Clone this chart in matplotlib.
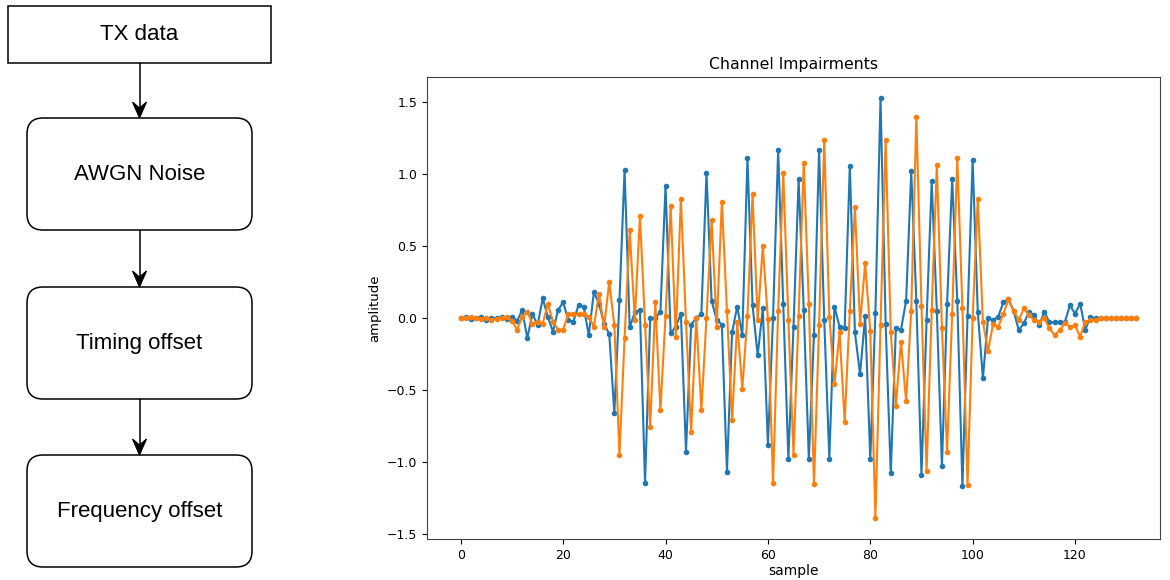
import numpy as np
import matplotlib
matplotlib.use("Agg")
import matplotlib.pyplot as plt
from matplotlib.patches import Rectangle, FancyBboxPatch, Polygon

# ---- flowchart stages ----
stage_labels = ["TX data", "AWGN Noise", "Timing offset", "Frequency offset"]

# ---- channel impairment samples (real / imaginary parts) ----
real_part = [
    0.0, 0.005, -0.005, 0.0, 0.005, -0.01, 0.0, 0.0, 0.005, -0.005,
    0.01, -0.02, 0.056, -0.14, 0.03, -0.05, 0.137, 0.01, -0.095, 0.056,
    0.11, -0.014, -0.025, 0.09, 0.08, -0.12, 0.18, 0.10, -0.04, -0.11,
    -0.66, 0.125, 1.03, -0.065, 0.04, 0.055, -1.15, 0.0, 0.0, 0.044,
    0.92, -0.107, -0.06, 0.03, -0.93, -0.045, 0.0, 0.03, 1.01, 0.12,
    -0.014, -0.045, -1.07, -0.10, 0.08, -0.12, 1.11, 0.09, -0.26, 0.067,
    -0.88, 0.0, 1.17, 0.10, -0.98, -0.06, 0.965, 0.056, -0.98, -0.115,
    1.17, -0.01, -0.98, 0.08, -0.06, -0.07, 1.06, -0.10, -0.39, 0.014,
    -0.98, 0.037, 1.53, -0.04, -1.08, -0.07, -0.08, 0.12, 1.02, 0.12,
    -1.09, -0.014, 0.95, 0.05, -1.03, 0.097, 0.965, 0.12, -1.17, 0.014,
    1.10, 0.044, -0.42, 0.0, -0.014, 0.01, 0.11, 0.13, 0.05, -0.084,
    -0.037, 0.044, 0.02, -0.05, 0.044, -0.03, -0.03, -0.03, -0.03, 0.09,
    0.03, 0.10, -0.08, 0.005, 0.0, 0.0, 0.0, 0.0, 0.0, 0.0,
    0.0, 0.0, 0.0,
]

imag_part = [
    0.0, 0.0, 0.005, 0.0, -0.005, 0.0, -0.01, -0.005, 0.0, 0.01,
    -0.02, -0.08, 0.01, 0.044, -0.04, -0.025, -0.04, 0.10, -0.025, -0.08,
    -0.08, 0.03, 0.03, 0.03, 0.03, 0.01, -0.06, 0.17, -0.06, 0.25,
    -0.05, -0.95, -0.14, 0.61, -0.01, 0.71, -0.045, -0.76, 0.11, -0.64,
    0.014, 0.78, -0.13, 0.83, -0.03, -0.79, 0.0, -0.64, 0.0, 0.68,
    -0.06, 0.81, 0.05, -0.71, -0.03, -0.49, 0.014, 0.86, -0.014, 0.50,
    -0.007, -1.15, 0.05, 1.01, -0.01, -0.95, 0.014, 1.08, 0.095, -1.155,
    -0.05, 1.24, 0.01, -0.46, -0.10, -0.72, 0.05, 0.77, -0.04, 0.38,
    -0.09, -1.39, -0.05, 1.24, -0.095, -0.61, -0.165, -0.58, 0.05, 1.40,
    0.084, -1.06, 0.056, 1.065, -0.07, -0.93, 0.03, 1.11, 0.067, -1.16,
    0.0, 0.83, -0.026, -0.23, -0.04, -0.06, 0.03, 0.13, 0.05, -0.014,
    0.067, 0.02, -0.014, -0.026, 0.0, -0.07, -0.12, -0.084, -0.037, -0.06,
    -0.05, -0.13, -0.026, -0.014, -0.01, 0.0, 0.0, 0.0, 0.0, 0.0,
    0.0, 0.0, 0.0,
]

sample_idx = np.arange(len(real_part))

W, H = 1170, 580
fig = plt.figure(figsize=(W / 100, H / 100), dpi=100)
fig.patch.set_facecolor("white")

# ---- block diagram on the left (pixel coordinates) ----
fc = fig.add_axes([0, 0, 300 / W, 1])
fc.set_xlim(0, 300)
fc.set_ylim(H, 0)
fc.axis("off")

box_lw = 1.1
cx = 139.5
fc.add_patch(Rectangle((8, 6), 263, 57, facecolor="white",
                       edgecolor="black", lw=box_lw))
fc.text(cx, 35, stage_labels[0], ha="center", va="center",
        fontsize=16, family="Liberation Sans")

box_tops = [118, 287, 455]
box_h = 112
for top, label in zip(box_tops, stage_labels[1:]):
    fc.add_patch(FancyBboxPatch((27, top), 225, box_h,
                                boxstyle="round,pad=0,rounding_size=16",
                                facecolor="white", edgecolor="black",
                                lw=box_lw))
    fc.text(cx, top + box_h / 2, label, ha="center", va="center",
            fontsize=16, family="Liberation Sans")

# connectors with notched arrowheads
arrow_spans = [(63, 118), (230, 287), (399, 455)]
for y0, y1 in arrow_spans:
    fc.plot([cx, cx], [y0, y1 - 9], color="black", lw=1.1,
            solid_capstyle="butt")
    fc.add_patch(Polygon([(cx, y1), (cx - 7, y1 - 16), (cx, y1 - 10),
                          (cx + 7, y1 - 16)], closed=True,
                         facecolor="black", edgecolor="black", lw=0.8))

# ---- signal plot on the right ----
ax = fig.add_axes([427 / W, 41 / H, 733 / W, 462 / H])
ax.plot(sample_idx, real_part, ".-", color="#1f77b4", lw=1.5, ms=6)
ax.plot(sample_idx, imag_part, ".-", color="#ff7f0e", lw=1.5, ms=6)
ax.set_xlim(-6.6, 136.6)
ax.set_title("Channel Impairments", fontsize=11.3)
ax.set_xlabel("sample", fontsize=10, labelpad=2)
ax.set_ylabel("amplitude", fontsize=9.5)
ax.set_yticks([-1.5, -1.0, -0.5, 0.0, 0.5, 1.0, 1.5])
ax.set_xticks([0, 20, 40, 60, 80, 100, 120])
ax.tick_params(labelsize=9)
for sp in ax.spines.values():
    sp.set_color("#444444")

fig.savefig("out.png", dpi=100)
